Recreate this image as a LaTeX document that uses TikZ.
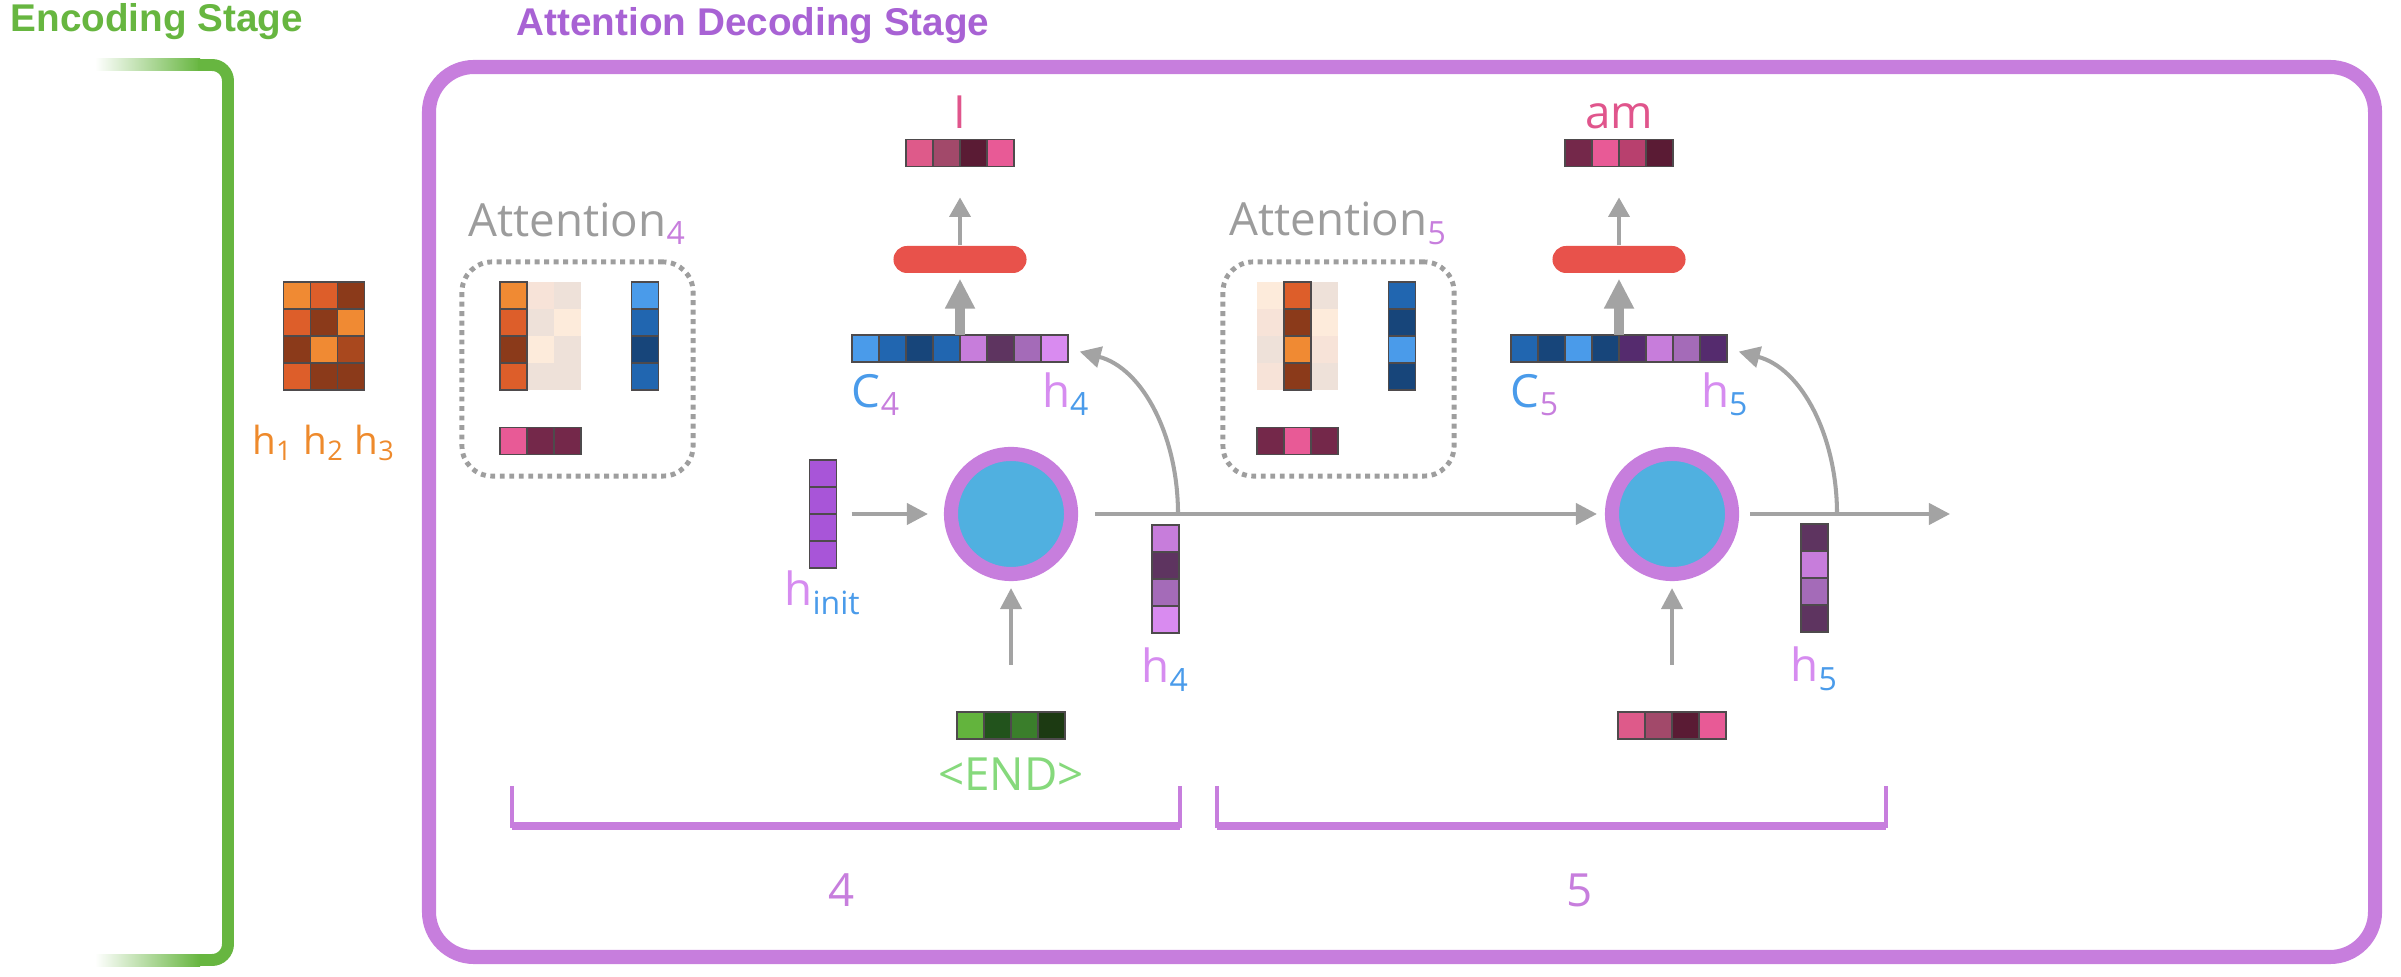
\documentclass[tikz,border=0pt]{standalone}
\usepackage{fontspec}
\setmainfont{Open Sans}
\newfontfamily\headfont{Liberation Sans}
\usetikzlibrary{positioning,arrows.meta}

\definecolor{encgreen}{HTML}{67B640}
\definecolor{decpurple}{HTML}{C77EDD}
\definecolor{headpurple}{HTML}{A862D4}
\definecolor{arrowgray}{HTML}{A3A3A3}
\definecolor{dotgray}{HTML}{9E9E9E}
\definecolor{labgray}{HTML}{9C9C9C}
\definecolor{hblue}{HTML}{4A9BEA}
\definecolor{hpurple}{HTML}{D68CF0}
\definecolor{endgreen}{HTML}{86D97C}
\definecolor{wordpink}{HTML}{E0558C}
\definecolor{densered}{HTML}{E8524B}
\definecolor{rnnblue}{HTML}{50B0E0}
\definecolor{horange}{HTML}{EE8A2C}
\definecolor{celledge}{HTML}{4E4A4C}
% cell colours
\definecolor{or1}{HTML}{F08A33}
\definecolor{or2}{HTML}{DD5E2A}
\definecolor{or3}{HTML}{8B3A1A}
\definecolor{or4}{HTML}{A9481E}
\definecolor{pa1}{HTML}{F7E3D8}
\definecolor{pa2}{HTML}{EEE1D9}
\definecolor{pa3}{HTML}{FDEBDB}
\definecolor{bl1}{HTML}{4A9BEA}
\definecolor{bl2}{HTML}{2166B0}
\definecolor{bl3}{HTML}{17457A}
\definecolor{pu1}{HTML}{C77DDB}
\definecolor{pu2}{HTML}{5E3460}
\definecolor{pu3}{HTML}{A46BB8}
\definecolor{pu4}{HTML}{D98BF0}
\definecolor{pu5}{HTML}{552B6E}
\definecolor{pu6}{HTML}{A855D8}
\definecolor{pk1}{HTML}{DE5A8A}
\definecolor{pk2}{HTML}{A2496A}
\definecolor{pk3}{HTML}{5A1B34}
\definecolor{pk4}{HTML}{E85A96}
\definecolor{pk5}{HTML}{74284A}
\definecolor{pk6}{HTML}{B8406E}
\definecolor{gr1}{HTML}{63B43D}
\definecolor{gr2}{HTML}{22531C}
\definecolor{gr3}{HTML}{3A7E2B}
\definecolor{gr4}{HTML}{1C3A12}

% row / column of coloured cells
\newcommand{\hvec}[5][cell]{%
  \node[vecslot, minimum width=#3*2.7mm] (#2) at (#4) {};
  \foreach \col [count=\i from 0] in {#5}
    \draw[#1, fill=\col] ([xshift=\i*2.7mm]#2.north west) rectangle ++(2.7mm,-2.7mm);
}
\newcommand{\vvec}[5][cell]{%
  \node[vecslot, minimum height=#3*2.7mm] (#2) at (#4) {};
  \foreach \col [count=\i from 0] in {#5}
    \draw[#1, fill=\col] ([yshift=-\i*2.7mm]#2.north west) rectangle ++(2.7mm,-2.7mm);
}
\newcommand{\lowidx}[2]{\textsubscript{\color{#1}#2}}

\begin{document}
\begin{tikzpicture}[x=0.01cm, y=-0.01cm,
    cell/.style={draw=celledge, line width=0.45pt},
    pale/.style={draw=none},
    vecslot/.style={rectangle, inner sep=0pt, outer sep=0pt, minimum width=2.7mm, minimum height=2.7mm},
    rnn/.style={circle, draw=decpurple, line width=4pt, fill=rnnblue, minimum size=12mm, inner sep=0pt},
    dense/.style={rectangle, rounded corners=1.35mm, fill=densered, minimum width=13.3mm, minimum height=2.7mm, inner sep=0pt},
    attbox/.style={rectangle, draw=dotgray, line width=1.4pt, dash pattern=on 1.4pt off 1.3pt, rounded corners=3mm, minimum width=23.1mm, minimum height=21.4mm},
    flow/.style={draw=arrowgray, line width=1.15pt, -{Triangle[width=6pt,length=6pt]}},
    fatflow/.style={draw=arrowgray, line width=2.8pt, -{Triangle[width=8pt,length=8.5pt]}},
    thinflow/.style={draw=arrowgray, line width=0.9pt, -{Triangle[width=6pt,length=5.5pt]}},
    lbl/.style={inner sep=0pt, outer sep=0pt, font=\fontsize{13}{15}\selectfont},
    attlbl/.style={lbl, text=labgray},
    word/.style={lbl, text=wordpink},
    stepnum/.style={lbl, text=decpurple},
    headlbl/.style={inner sep=0pt, font=\headfont\bfseries\fontsize{11}{13}\selectfont},
    encline/.style={draw=encgreen, line width=3.4pt, rounded corners=1.6mm},
    decframe/.style={draw=decpurple, line width=4pt, rounded corners=4.5mm},
    brace/.style={draw=decpurple, line width=1.3pt}]
  \useasboundingbox (0,0) rectangle (2401,977);

  % stages
  \node[headlbl, text=encgreen, anchor=base west] (enctitle) at (10,32) {Encoding Stage};
  \node[headlbl, text=headpurple, anchor=base west] (dectitle) at (516,36) {Attention Decoding Stage};
  \shade[left color=white, right color=encgreen] (95,59) rectangle (200,71);
  \draw[encline] (198,65) -- (228,65) -- (228,960) -- (198,960);
  \shade[left color=white, right color=encgreen] (95,954) rectangle (200,966);
  \draw[decframe] (429,67) rectangle (2375,957);

  % encoder states
  \vvec{enc1}{4}{297,336}{or1,or2,or3,or2}
  \vvec{enc2}{4}{324,336}{or2,or3,or1,or3}
  \vvec{enc3}{4}{351,336}{or3,or1,or4,or3}
  \node[lbl, font=\fontsize{11}{13}\selectfont, text=horange, below=3.5mm of enc2] (enclbl)
    {h\textsubscript{1} h\textsubscript{2} h\textsubscript{3}};

  % attention 4
  \node[attbox] (attbox4) at (577.5,369) {};
  \node[attlbl, above=1.5mm of attbox4] (attlbl4) {Attention\lowidx{decpurple}{4}};
  \vvec[pale]{attn4b}{4}{540.5,336}{pa1,pa2,pa3,pa2}
  \vvec[pale]{attn4c}{4}{567.5,336}{pa2,pa3,pa2,pa2}
  \vvec{attn4a}{4}{513.5,336}{or1,or2,or3,or2}
  \vvec{ctx4}{4}{645,336}{bl1,bl2,bl3,bl2}
  \hvec{alpha4}{3}{540.5,441}{pk4,pk5,pk5}

  % attention 5
  \node[attbox] (attbox5) at (1338.5,369) {};
  \node[attlbl, above=1.5mm of attbox5] (attlbl5) {Attention\lowidx{decpurple}{5}};
  \vvec[pale]{attn5a}{4}{1270.5,336}{pa3,pa1,pa2,pa1}
  \vvec[pale]{attn5c}{4}{1324.5,336}{pa2,pa3,pa1,pa2}
  \vvec{attn5b}{4}{1297.5,336}{or2,or3,or1,or3}
  \vvec{ctx5}{4}{1402,336}{bl2,bl3,bl1,bl3}
  \hvec{alpha5}{3}{1297.5,441}{pk5,pk4,pk5}

  % decoder step 4
  \node[rnn] (rnn4) at (1011,514) {};
  \vvec{hinit}{4}{823,514}{pu6,pu6,pu6,pu6}
  \node[lbl, below=0.3mm of hinit] (hinitlbl) {\textcolor{hpurple}{h}\lowidx{hblue}{init}};
  \hvec{tok4}{4}{1011,725.5}{gr1,gr2,gr3,gr4}
  \node[lbl, text=endgreen, below=1.9mm of tok4] (toklbl4) {<END>};
  \vvec{hid4}{4}{1165.5,579}{pu1,pu2,pu3,pu4}
  \node[lbl, below=1.5mm of hid4] (hidlbl4) {\textcolor{hpurple}{h}\lowidx{hblue}{4}};
  \hvec{cat4}{8}{960,348.5}{bl1,bl2,bl3,bl2,pu1,pu2,pu3,pu4}
  \node[lbl, anchor=base west] (ctxlbl4) at ([yshift=-4.5mm]cat4.south west) {\textcolor{hblue}{C}\lowidx{decpurple}{4}};
  \node[lbl, anchor=base west] (catlbl4) at ([xshift=-2.6mm,yshift=-4.5mm]cat4.south east) {\textcolor{hpurple}{h}\lowidx{hblue}{4}};
  \node[dense] (dense4) at (960,259.5) {};
  \hvec{pred4}{4}{960,153}{pk1,pk2,pk3,pk4}
  \node[word, above=1.1mm of pred4] (word4) {I};

  % decoder step 5
  \node[rnn] (rnn5) at (1672,514) {};
  \hvec{tok5}{4}{1672,725.5}{pk1,pk2,pk3,pk4}
  \vvec{hid5}{4}{1814.5,578}{pu2,pu1,pu3,pu2}
  \node[lbl, below=1.5mm of hid5] (hidlbl5) {\textcolor{hpurple}{h}\lowidx{hblue}{5}};
  \hvec{cat5}{8}{1619,348.5}{bl2,bl3,bl1,bl3,pu5,pu1,pu3,pu5}
  \node[lbl, anchor=base west] (ctxlbl5) at ([yshift=-4.5mm]cat5.south west) {\textcolor{hblue}{C}\lowidx{decpurple}{5}};
  \node[lbl, anchor=base west] (catlbl5) at ([xshift=-2.6mm,yshift=-4.5mm]cat5.south east) {\textcolor{hpurple}{h}\lowidx{hblue}{5}};
  \node[dense] (dense5) at (1619,259.5) {};
  \hvec{pred5}{4}{1619,153}{pk5,pk4,pk6,pk3}
  \node[word, above=1.1mm of pred5] (word5) {am};

  % connectors
  \coordinate (split4) at (1178,514);
  \coordinate (split5) at (1837,514);
  \coordinate (next) at (1950,514);
  \draw[flow, shorten <=1.5mm, shorten >=1.6mm] (hinit) -- (rnn4);
  \draw[flow, shorten <=4.7mm, shorten >=0.7mm] (tok4) -- (rnn4);
  \draw[flow, shorten <=1.7mm, shorten >=0.8mm] (rnn4) -- (rnn5);
  \draw[flow, shorten >=1.2mm] (split4) to[out=90, in=-15] (cat4.east);
  \draw[fatflow, shorten >=0.5mm] (cat4) -- (dense4);
  \draw[thinflow, shorten >=3.1mm] (dense4) -- (pred4);
  \draw[flow, shorten <=4.7mm, shorten >=0.7mm] (tok5) -- (rnn5);
  \draw[flow, shorten <=1.1mm] (rnn5) -- (next);
  \draw[flow, shorten >=1.2mm] (split5) to[out=90, in=-15] (cat5.east);
  \draw[fatflow, shorten >=0.5mm] (cat5) -- (dense5);
  \draw[thinflow, shorten >=3.1mm] (dense5) -- (pred5);

  % time steps
  \draw[brace] (512,786) |- (1180,826) -- (1180,786);
  \draw[brace, line width=2.1pt] (512,826) -- (1180,826);
  \draw[brace] (1217,786) |- (1886,826) -- (1886,786);
  \draw[brace, line width=2.1pt] (1217,826) -- (1886,826);
  \node[stepnum] (num4) at (842,890) {4};
  \node[stepnum] (num5) at (1580,890) {5};
\end{tikzpicture}
\end{document}
